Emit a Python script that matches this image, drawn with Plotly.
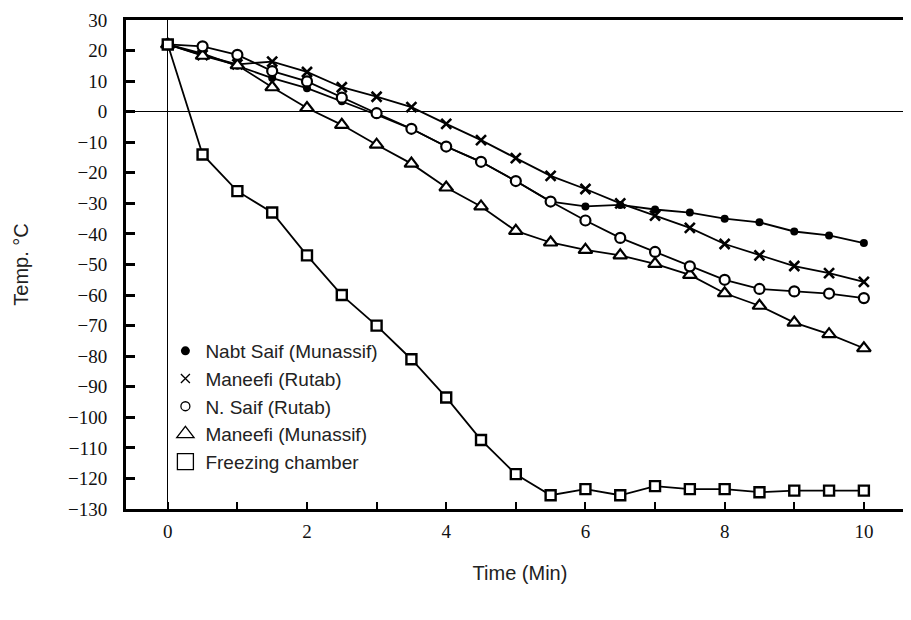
import plotly.graph_objects as go

time_min = [0, 0.5, 1, 1.5, 2, 2.5, 3, 3.5, 4, 4.5, 5, 5.5, 6, 6.5, 7, 7.5, 8, 8.5, 9, 9.5, 10]

nabt_saif_munassif = [22, 19, 15, 11, 7.7, 3.4, -1, -5.6, -11.4, -16.4, -22.7, -29.4, -31, -30.5, -32, -33, -35, -36.2, -39.2, -40.5, -43]
maneefi_rutab = [22, 18.5, 15.5, 16.4, 13, 8, 4.9, 1.5, -4, -9.3, -15.2, -21, -25.3, -30, -34, -38, -43.3, -47, -50.5, -52.8, -55.7]
n_saif_rutab = [22, 21.4, 18.6, 13.3, 9.9, 4.6, -0.5, -5.6, -11.4, -16.4, -22.7, -29.4, -35.6, -41.3, -45.9, -50.6, -55, -58, -58.8, -59.5, -61]
maneefi_munassif = [22, 18.3, 15.2, 8, 1.2, -4.3, -10.8, -17, -24.8, -31, -39, -42.8, -45.2, -47, -49.8, -53.4, -59.4, -63.5, -69, -72.8, -77.4]
freezing_chamber = [22, -14, -26, -33, -47, -60, -70, -81, -93.5, -107.4, -118.6, -125.5, -123.5, -125.5, -122.5, -123.5, -123.5, -124.5, -124, -124, -124]

series_names = ["Nabt Saif (Munassif)", "Maneefi (Rutab)", "N. Saif (Rutab)", "Maneefi (Munassif)", "Freezing chamber"]
y_ticks = list(range(-130, 31, 10))
x_ticks = list(range(0, 11))
x_tick_labels = [str(v) if v % 2 == 0 else "" for v in x_ticks]

# drawing order: filled circles underneath, open (white-filled) markers on top
series = [
    (nabt_saif_munassif, dict(symbol="circle", size=8, color="black", line=dict(width=0))),
    (maneefi_rutab, dict(symbol="x-thin-open", size=10, color="black", line=dict(width=2.6, color="black"))),
    (maneefi_munassif, dict(symbol="triangle-up", size=12, color="white", line=dict(width=2.2, color="black"))),
    (n_saif_rutab, dict(symbol="circle", size=10, color="white", line=dict(width=2.2, color="black"))),
    (freezing_chamber, dict(symbol="square", size=10, color="white", line=dict(width=2.4, color="black"))),
]

fig = go.Figure()
for vals, mk in series:
    fig.add_trace(go.Scatter(x=time_min, y=vals, mode="lines+markers",
                             line=dict(color="black", width=1.8),
                             marker=mk, showlegend=False, cliponaxis=False))

legend_markers = [
    dict(symbol="circle", size=9, color="black"),
    dict(symbol="x-thin-open", size=9, color="black", line=dict(width=1.3, color="black")),
    dict(symbol="circle-open", size=9, color="black", line=dict(width=1.3, color="black")),
    dict(symbol="triangle-up-open", size=15, color="black", line=dict(width=1.3, color="black")),
    dict(symbol="square-open", size=17, color="black", line=dict(width=1.3, color="black")),
]
for i, (name, mk) in enumerate(zip(series_names, legend_markers)):
    fig.add_trace(go.Scatter(x=[None], y=[None], mode="markers", name=name,
                             legendgroup=f"g{i}", marker=mk))

fig.update_layout(
    width=911, height=620,
    margin=dict(l=118, r=5, t=12, b=119),
    plot_bgcolor="white", paper_bgcolor="white",
    legend=dict(x=0.05, y=0.362, xanchor="left", yanchor="top",
                font=dict(family="Liberation Sans", size=19, color="#222"),
                bgcolor="rgba(0,0,0,0)", itemsizing="trace", tracegroupgap=0),
    font=dict(family="Liberation Serif", color="black"),
)
fig.update_xaxes(range=[-0.60, 10.72], tickvals=x_ticks, ticktext=x_tick_labels,
                 ticks="inside", ticklen=7, tickwidth=2, tickcolor="black",
                 ticklabelstandoff=3, automargin=False,
                 showline=True, linewidth=2.5, linecolor="black", mirror=True,
                 showgrid=False, zeroline=True, zerolinecolor="black", zerolinewidth=1.3,
                 tickfont=dict(family="Liberation Serif", size=19, color="#111"),
                 title=dict(text="Time (Min)", font=dict(family="Liberation Sans", size=20, color="#222"), standoff=26))
fig.update_yaxes(range=[-130, 30], tickvals=y_ticks,
                 ticks="inside", ticklen=9, tickwidth=2.5, tickcolor="black",
                 ticklabelstandoff=12, automargin=False,
                 showline=True, linewidth=3, linecolor="black", mirror=True,
                 showgrid=False, zeroline=True, zerolinecolor="black", zerolinewidth=1.3,
                 tickfont=dict(family="Liberation Serif", size=19, color="#111"),
                 title=dict(text="Temp. °C", font=dict(family="Liberation Sans", size=20, color="#222"), standoff=34))

fig.write_html("out.html")
